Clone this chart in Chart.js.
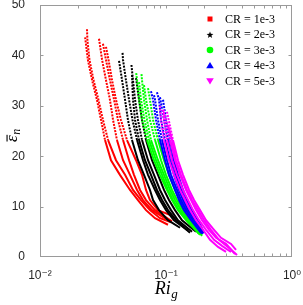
<!DOCTYPE html>
<html><head><meta charset="utf-8">
<script src="https://cdn.jsdelivr.net/npm/chart.js@4/dist/chart.umd.min.js"></script>
<style>html,body{margin:0;padding:0;background:#fff;overflow:hidden}canvas{display:block}</style>
</head><body>
<canvas id="c" width="303" height="305"></canvas>
<script>
// ---- data ----
const seriesLabels = ['CR = 1e-3', 'CR = 2e-3', 'CR = 3e-3', 'CR = 4e-3', 'CR = 5e-3'];
const seriesColors = ['#ff0000', '#000000', '#00ff00', '#0000ff', '#ff00ff'];
const yTickValues = [0, 10, 20, 30, 40, 50];
const xDecadeLabels = { '-2': '10⁻²', '-1': '10⁻¹', '0': '10⁰' };

// CR = 1e-3 (five runs): Ri_g and eps_n
const cr1Ri = [
  [0.0228,0.0240,0.0259,0.0283,0.0305,0.0328,0.0366,0.0431,0.0518,0.0599,0.0694,0.0818,0.1037],
  [0.0236,0.0238,0.0247,0.0266,0.0291,0.0316,0.0347,0.0401,0.0473,0.0547,0.0633,0.0746,0.0896,0.1096],
  [0.0294,0.0311,0.0334,0.0359,0.0380,0.0408,0.0456,0.0518,0.0589,0.0657,0.0774,0.1037],
  [0.0316,0.0334,0.0359,0.0387,0.0416,0.0456,0.0509,0.0557,0.0622,0.0694,0.0818,0.1116],
  [0.0334,0.0350,0.0373,0.0401,0.0439,0.0490,0.0578,0.0645,0.0694,0.0746,0.0864,0.1136]
];
const cr1Eps = [
  [43.6,39.1,35.1,31.2,27.2,23.2,19.2,16.3,13.3,11.3,9.3,7.7,6.4],
  [45.2,42.9,39.1,35.1,31.2,27.2,23.2,19.2,16.3,13.3,11.3,9.3,7.7,6.9],
  [43.3,39.1,35.1,31.2,27.2,23.2,19.2,16.3,13.3,11.3,9.3,7.3],
  [42.3,39.1,35.1,31.2,27.2,23.2,19.2,16.3,13.3,11.3,9.3,7.1],
  [41.7,39.1,35.1,31.2,27.2,23.2,19.2,16.3,13.3,11.3,9.3,8.1]
];
// CR = 2e-3
const cr2Ri = [
  [0.0424,0.0448,0.0473,0.0499,0.0537,0.0599,0.0669,0.0746,0.0789,0.0880,0.1037,0.1292],
  [0.0452,0.0456,0.0481,0.0509,0.0542,0.0589,0.0657,0.0720,0.0818,0.0896,0.1000,0.1157,0.1495],
  [0.0532,0.0547,0.0568,0.0599,0.0645,0.0720,0.0803,0.0896,0.0982,0.1096,0.1245,0.1609],
  [0.0578,0.0611,0.0645,0.0694,0.0774,0.0864,0.0964,0.1056,0.1179,0.1340,0.1731],
  [0.0537,0.0547,0.0568,0.0611,0.0681,0.0760,0.0848,0.0930,0.1037,0.1201,0.1551]
];
const cr2Eps = [
  [38.9,35.1,31.2,27.2,23.2,19.2,16.3,13.3,11.3,9.3,7.3,5.8],
  [40.5,39.1,35.1,31.2,27.2,23.2,19.2,16.3,13.3,11.3,9.3,7.3,5.2],
  [38.1,35.1,31.2,27.2,23.2,19.2,16.3,13.3,11.3,9.3,7.3,5.0],
  [35.5,31.2,27.2,23.2,19.2,16.3,13.3,11.3,9.3,7.3,5.0],
  [36.1,31.2,27.2,23.2,19.2,16.3,13.3,11.3,9.3,7.3,4.8]
];
// CR = 3e-3
const cr3Ri = [
  [0.0580,0.0589,0.0611,0.0645,0.0707,0.0803,0.0896,0.1018,0.1116,0.1245,0.1442,0.1828],
  [0.0639,0.0645,0.0669,0.0707,0.0760,0.0864,0.0964,0.1076,0.1179,0.1316,0.1523,0.1897],
  [0.0720,0.0746,0.0789,0.0864,0.0964,0.1056,0.1179,0.1292,0.1442,0.1638,0.1932],
  [0.0611,0.0633,0.0675,0.0733,0.0833,0.0930,0.1037,0.1136,0.1268,0.1468,0.1862],
  [0.0669,0.0694,0.0746,0.0818,0.0913,0.1000,0.1116,0.1223,0.1365,0.1551,0.1932]
];
const cr3Eps = [
  [36.5,35.1,31.2,27.2,23.2,19.2,16.3,13.3,11.3,9.3,7.3,4.6],
  [36.3,35.1,31.2,27.2,23.2,19.2,16.3,13.3,11.3,9.3,7.3,4.6],
  [33.5,31.2,27.2,23.2,19.2,16.3,13.3,11.3,9.3,7.3,4.4],
  [34.7,31.2,27.2,23.2,19.2,16.3,13.3,11.3,9.3,7.3,4.4],
  [34.1,31.2,27.2,23.2,19.2,16.3,13.3,11.3,9.3,7.3,4.2]
];
// CR = 4e-3
const cr4Ri = [
  [0.0760,0.0789,0.0833,0.0896,0.0982,0.1056,0.1179,0.1268,0.1390,0.1580,0.1897],
  [0.0803,0.0818,0.0864,0.0930,0.1018,0.1096,0.1223,0.1316,0.1442,0.1638,0.1932],
  [0.0848,0.0880,0.0913,0.0982,0.1076,0.1157,0.1268,0.1365,0.1495,0.1699,0.1967],
  [0.0896,0.0964,0.1037,0.1116,0.1201,0.1316,0.1416,0.1551,0.1731,0.1967],
  [0.0947,0.1000,0.1076,0.1157,0.1245,0.1365,0.1468,0.1609,0.1795,0.2004]
];
const cr4Eps = [
  [32.9,31.2,27.2,23.2,19.2,16.3,13.3,11.3,9.3,7.3,4.8],
  [32.1,31.2,27.2,23.2,19.2,16.3,13.3,11.3,9.3,7.3,4.6],
  [32.7,31.2,27.2,23.2,19.2,16.3,13.3,11.3,9.3,7.3,4.6],
  [31.7,27.2,23.2,19.2,16.3,13.3,11.3,9.3,7.3,4.8],
  [31.2,27.2,23.2,19.2,16.3,13.3,11.3,9.3,7.3,4.8]
];
// CR = 5e-3
const cr5Ri = [
  [0.0896,0.0913,0.0964,0.1056,0.1157,0.1292,0.1416,0.1551,0.1731,0.1967,0.2236,0.2588,0.2995],
  [0.0947,0.0964,0.1018,0.1116,0.1223,0.1365,0.1495,0.1638,0.1828,0.2078,0.2406,0.2784,0.3281],
  [0.0982,0.1076,0.1179,0.1292,0.1442,0.1580,0.1731,0.1932,0.2195,0.2495,0.2995,0.3530],
  [0.1018,0.1136,0.1245,0.1365,0.1523,0.1669,0.1862,0.2078,0.2406,0.2733,0.3281,0.3595],
  [0.1037,0.1116,0.1201,0.1316,0.1468,0.1609,0.1795,0.2004,0.2277,0.2636,0.3164,0.3662]
];
const cr5Eps = [
  [30.0,27.2,23.2,19.2,16.3,13.3,11.3,9.3,7.3,5.4,3.4,2.0,1.0],
  [29.2,27.2,23.2,19.2,16.3,13.3,11.3,9.3,7.3,5.4,3.4,2.2,1.0],
  [28.2,23.2,19.2,16.3,13.3,11.3,9.3,7.3,5.4,3.8,2.6,0.6],
  [28.8,23.2,19.2,16.3,13.3,11.3,9.3,7.3,5.4,3.8,2.6,1.4],
  [26.2,23.2,19.2,16.3,13.3,11.3,9.3,7.3,5.4,3.4,1.8,0.4]
];

// ---- build datasets ----
const groupRi = [cr1Ri, cr2Ri, cr3Ri, cr4Ri, cr5Ri];
const groupEps = [cr1Eps, cr2Eps, cr3Eps, cr4Eps, cr5Eps];
const datasets = [];
groupRi.forEach((runs, g) => runs.forEach((xs, k) => {
  datasets.push({
    label: seriesLabels[g],
    data: xs.map((x, i) => ({ x: x, y: groupEps[g][k][i] })),
    showLine: true,
    borderColor: seriesColors[g],
    backgroundColor: seriesColors[g],
    borderWidth: 2,
    pointRadius: 0,
    tension: 0,
    order: 4 - g,
    segment: { borderDash: c => (c.p0.parsed.y > 27 ? [2, 1.2] : undefined) }
  });
}));

const AXIS_COL = '#9a9a9a';
const TEXT_COL = '#262626';

const framePlugin = {
  id: 'frame',
  afterDraw(chart) {
    const { ctx, chartArea: a, scales: { x, y } } = chart;
    ctx.save();
    ctx.strokeStyle = AXIS_COL;
    ctx.lineWidth = 1;
    const L = a.left + 0.5, R = a.right - 0.5, T = a.top + 0.5, B = a.bottom - 0.5;
    ctx.strokeRect(L, T, R - L, B - T);
    ctx.beginPath();
    x.ticks.forEach(t => {
      const p = Math.round(x.getPixelForValue(t.value)) + 0.5;
      if (p < L + 1 || p > R - 1) return;
      ctx.moveTo(p, B); ctx.lineTo(p, B - 3);
      ctx.moveTo(p, T); ctx.lineTo(p, T + 3);
    });
    y.ticks.forEach(t => {
      const p = Math.round(y.getPixelForValue(t.value)) + 0.5;
      if (p < T + 1 || p > B - 1) return;
      ctx.moveTo(L, p); ctx.lineTo(L + 3, p);
      ctx.moveTo(R, p); ctx.lineTo(R - 3, p);
    });
    ctx.stroke();

    // legend
    const rowY = [19, 34.5, 50, 65.5, 81];
    ctx.font = '12px "Liberation Serif", "Times New Roman", serif';
    ctx.textBaseline = 'middle';
    ctx.textAlign = 'left';
    seriesLabels.forEach((lab, i) => {
      const cx = 210, cy = rowY[i];
      ctx.fillStyle = seriesColors[i];
      ctx.beginPath();
      if (i === 0) { ctx.rect(cx - 2.5, cy - 2.5, 5, 5); }
      else if (i === 1) {
        for (let k = 0; k < 10; k++) {
          const r = k % 2 === 0 ? 3.6 : 1.5;
          const ang = -Math.PI / 2 + k * Math.PI / 5;
          const px = cx + r * Math.cos(ang), py = cy + 0.5 + r * Math.sin(ang);
          k === 0 ? ctx.moveTo(px, py) : ctx.lineTo(px, py);
        }
        ctx.closePath();
      }
      else if (i === 2) { ctx.arc(cx, cy, 3.3, 0, Math.PI * 2); }
      else if (i === 3) { ctx.moveTo(cx, cy - 3.5); ctx.lineTo(cx + 3.8, cy + 2.8); ctx.lineTo(cx - 3.8, cy + 2.8); ctx.closePath(); }
      else { ctx.moveTo(cx - 3.8, cy - 2.8); ctx.lineTo(cx + 3.8, cy - 2.8); ctx.lineTo(cx, cy + 3.5); ctx.closePath(); }
      ctx.fill();
      ctx.fillStyle = '#000';
      ctx.fillText(lab, 225, cy + 0.5);
    });

    // x axis title: Ri_g
    ctx.fillStyle = '#000';
    ctx.textBaseline = 'alphabetic';
    const big = 'italic 18px "Liberation Serif", "Times New Roman", serif';
    const small = 'italic 13px "Liberation Serif", "Times New Roman", serif';
    ctx.font = big; const w1 = ctx.measureText('Ri').width;
    ctx.font = small; const w2 = ctx.measureText('g').width;
    const sx = (a.left + a.right) / 2 - (w1 + w2) / 2;
    ctx.font = big; ctx.fillText('Ri', sx, 294);
    ctx.font = small; ctx.fillText('g', sx + w1 + 0.5, 298);

    // y axis title: eps-bar_n (rotated)
    ctx.translate(17, 142);
    ctx.rotate(-Math.PI / 2);
    ctx.font = 'italic 17px "Liberation Serif", "Times New Roman", serif';
    const we = ctx.measureText('ε').width;
    ctx.fillText('ε', 0, 0);
    ctx.fillRect(0.5, -10.5, we, 1.1);
    ctx.font = 'italic 12px "Liberation Serif", "Times New Roman", serif';
    ctx.fillText('n', we + 0.5, 2.5);
    ctx.restore();
  }
};

new Chart(document.getElementById('c'), {
  type: 'scatter',
  data: { datasets },
  options: {
    responsive: false,
    animation: false,
    devicePixelRatio: 1,
    layout: { padding: { left: 0, right: 11, top: 5, bottom: 0 } },
    plugins: { legend: { display: false }, tooltip: { enabled: false } },
    scales: {
      x: {
        type: 'logarithmic', min: 0.01, max: 1,
        grid: { display: false }, border: { display: false },
        ticks: {
          autoSkip: false, maxRotation: 0, padding: 3, color: TEXT_COL,
          font: { family: '"Liberation Sans", Arial, "DejaVu Sans", sans-serif', size: 12 },
          callback: v => {
            const e = Math.log10(v);
            return Math.abs(e - Math.round(e)) < 1e-6 ? (xDecadeLabels[String(Math.round(e))] || '') : '';
          }
        },
        afterFit: s => { s.height = 48; s.paddingLeft = 0; s.paddingRight = 0; }
      },
      y: {
        min: 0, max: 50,
        grid: { display: false }, border: { display: false },
        afterBuildTicks: s => { s.ticks = yTickValues.map(v => ({ value: v })); },
        ticks: {
          padding: 7, color: TEXT_COL,
          font: { family: '"Liberation Sans", Arial, sans-serif', size: 12 }
        },
        afterFit: s => { s.width = 40; s.paddingTop = 0; s.paddingBottom = 0; }
      }
    }
  },
  plugins: [framePlugin]
});
</script>
</body></html>
